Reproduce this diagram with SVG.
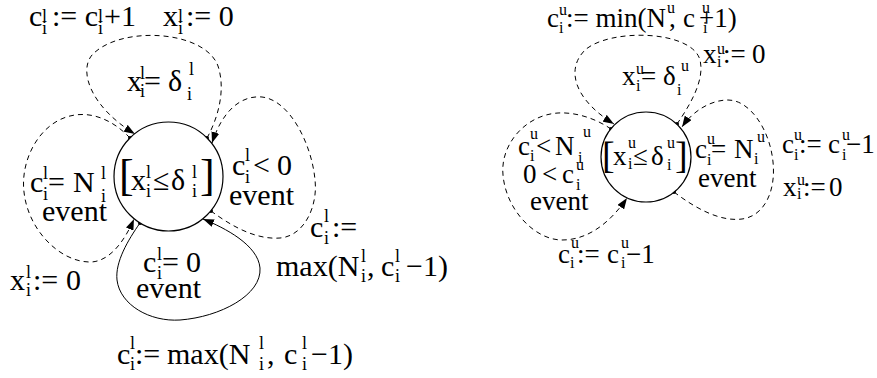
<svg xmlns="http://www.w3.org/2000/svg" width="877" height="378" viewBox="0 0 877 378" font-family="'Liberation Serif', 'DejaVu Serif', serif">
<defs>
<style>
text{font-family:'Liberation Serif','DejaVu Serif',serif;fill:#000}
.L{font-size:30px}
.R{font-size:27px}
.L .s{font-size:18px}
.R .s{font-size:16px}
.bL{font-size:44px}
.bR{font-size:38px}
.st{fill:#fff;stroke:#000;stroke-width:1.2}
.e{fill:none;stroke:#000;stroke-width:1;marker-end:url(#ah);marker-start:url(#dot)}
.d{stroke-dasharray:5 4}
</style>
<marker id="ah" markerUnits="userSpaceOnUse" markerWidth="12" markerHeight="8" refX="11" refY="4" orient="auto"><path d="M0,0 L11,4 L0,8 z" fill="#000"/></marker>
<marker id="dot" markerUnits="userSpaceOnUse" markerWidth="5" markerHeight="5" refX="2.5" refY="2.5"><circle cx="2.5" cy="2.5" r="2" fill="#000"/></marker>
</defs>
<rect width="877" height="378" fill="#fff"/>

<g id="connectors">
<path class="e d" d="M207,138 C218,118 226,90 218,66 C205,30 120,25 92,55 C78,72 92,108 135,134"/>
<path class="e d" d="M130,138 C115,122 95,112 75,115 C40,120 20,160 24,192 C28,230 60,262 90,262 C110,262 125,240 134,219"/>
<path class="e" d="M140,223 C128,240 115,262 117,280 C120,305 150,322 180,320 C220,317 262,295 260,268 C258,245 225,228 203,219"/>
<path class="e d" d="M211,211 C230,225 255,240 280,238 C305,236 318,205 315,180 C312,145 290,100 262,97 C240,95 222,112 212,143"/>
<path class="e d" d="M677,124 C690,105 705,80 700,60 C692,30 610,28 585,50 C565,70 575,100 614,124"/>
<path class="e d" d="M611,129 C595,118 575,112 558,113 C525,115 500,145 503,175 C506,210 535,240 562,240 C590,240 612,220 627,198"/>
<path class="e d" d="M674,192 C695,208 720,222 742,219 C765,216 776,190 773,162 C770,130 750,100 728,100 C710,100 692,112 682,127"/>
</g>

<g id="state-l">
<circle class="st" cx="168.5" cy="176.5" r="54.5"/>
<text class="L"><tspan class="bL" x="119" y="190">[</tspan><tspan x="131" y="190">x</tspan><tspan class="s" x="146" y="178">l</tspan><tspan class="s" x="146" y="197">i</tspan><tspan x="153" y="190">≤</tspan><tspan x="171" y="190">δ</tspan><tspan class="s" x="192" y="178">l</tspan><tspan class="s" x="192" y="197">i</tspan><tspan class="bL" x="200" y="190">]</tspan></text>
</g>

<g id="state-u">
<circle class="st" cx="646" cy="157" r="45"/>
<text class="R"><tspan class="bR" x="602" y="168">[</tspan><tspan x="613" y="165">x</tspan><tspan class="s" x="628" y="148">u</tspan><tspan class="s" x="628" y="169">i</tspan><tspan x="633" y="165">≤</tspan><tspan x="651" y="165">δ</tspan><tspan class="s" x="667" y="148">u</tspan><tspan class="s" x="667" y="170">i</tspan><tspan class="bR" x="675" y="168">]</tspan></text>
</g>

<g id="edge-labels">
<text class="L"><tspan x="29" y="26">c</tspan><tspan class="s" x="42" y="22">l</tspan><tspan class="s" x="42" y="34">i</tspan><tspan x="52" y="26">:= c</tspan><tspan class="s" x="98" y="22">l</tspan><tspan class="s" x="98" y="34">i</tspan><tspan x="104" y="26">+1</tspan></text>
<text class="L"><tspan x="163" y="26">x</tspan><tspan class="s" x="178" y="22">l</tspan><tspan class="s" x="178" y="34">i</tspan><tspan x="186" y="26">:= 0</tspan></text>
<text class="L"><tspan x="127" y="91">x</tspan><tspan class="s" x="140" y="79">l</tspan><tspan class="s" x="140" y="97">i</tspan><tspan x="144" y="91">=</tspan><tspan x="168" y="91">δ</tspan><tspan class="s" x="189" y="75">l</tspan><tspan class="s" x="187" y="100">i</tspan></text>
<text class="L"><tspan x="30" y="192">c</tspan><tspan class="s" x="43" y="179">l</tspan><tspan class="s" x="43" y="200">i</tspan><tspan x="48" y="192">=</tspan><tspan x="73" y="192">N</tspan><tspan class="s" x="101" y="179">l</tspan><tspan class="s" x="101" y="202">i</tspan><tspan x="42" y="221">event</tspan></text>
<text class="L"><tspan x="232" y="175">c</tspan><tspan class="s" x="245" y="161">l</tspan><tspan class="s" x="245" y="183">i</tspan><tspan x="253" y="175">&lt;</tspan><tspan x="277" y="175">0</tspan><tspan x="229" y="205">event</tspan></text>
<text class="L"><tspan x="310" y="237">c</tspan><tspan class="s" x="324" y="222">l</tspan><tspan class="s" x="324" y="244">i</tspan><tspan x="332" y="237">:=</tspan></text>
<text class="L"><tspan x="276" y="276">max(N</tspan><tspan class="s" x="361" y="262">l</tspan><tspan class="s" x="361" y="282">i</tspan><tspan x="367" y="276">,</tspan><tspan x="381" y="276">c</tspan><tspan class="s" x="395" y="262">l</tspan><tspan class="s" x="395" y="282">i</tspan><tspan x="406" y="276">−1)</tspan></text>
<text class="L"><tspan x="10" y="290">x</tspan><tspan class="s" x="26" y="278">l</tspan><tspan class="s" x="26" y="296">i</tspan><tspan x="33" y="290">:=</tspan><tspan x="66" y="290">0</tspan></text>
<text class="L"><tspan x="143" y="272">c</tspan><tspan class="s" x="157" y="260">l</tspan><tspan class="s" x="157" y="279">i</tspan><tspan x="162" y="272">=</tspan><tspan x="186" y="272">0</tspan><tspan x="136" y="298">event</tspan></text>
<text class="L"><tspan x="117" y="364">c</tspan><tspan class="s" x="130" y="349">l</tspan><tspan class="s" x="130" y="370">i</tspan><tspan x="135" y="364">:=</tspan><tspan x="167" y="364">max(N</tspan><tspan class="s" x="259" y="349">l</tspan><tspan class="s" x="259" y="370">i</tspan><tspan x="267" y="364">,</tspan><tspan x="284" y="364">c</tspan><tspan class="s" x="302" y="349">l</tspan><tspan class="s" x="302" y="370">i</tspan><tspan x="311" y="364">−1)</tspan></text>

<text class="R"><tspan x="547" y="27">c</tspan><tspan class="s" x="559" y="15">u</tspan><tspan class="s" x="559" y="33">i</tspan><tspan x="566" y="27">:= min(N</tspan><tspan class="s" x="667" y="13">u</tspan><tspan x="669" y="27">,</tspan><tspan x="683" y="27">c</tspan><tspan class="s" x="702" y="13">u</tspan><tspan x="699" y="27">+1)</tspan><tspan class="s" x="703" y="33">i</tspan></text>
<text class="R"><tspan x="703" y="63">x</tspan><tspan class="s" x="717" y="54">u</tspan><tspan class="s" x="717" y="67">i</tspan><tspan x="723" y="63">:=</tspan><tspan x="752" y="63">0</tspan></text>
<text class="R"><tspan x="622" y="85">x</tspan><tspan class="s" x="636" y="74">u</tspan><tspan class="s" x="636" y="91">i</tspan><tspan x="641" y="85">=</tspan><tspan x="663" y="85">δ</tspan><tspan class="s" x="681" y="71">u</tspan><tspan class="s" x="677" y="95">i</tspan></text>
<text class="R"><tspan x="518" y="155">c</tspan><tspan class="s" x="530" y="139">u</tspan><tspan class="s" x="530" y="161">i</tspan><tspan x="536" y="155">&lt;</tspan><tspan x="555" y="155">N</tspan><tspan class="s" x="583" y="137">u</tspan><tspan class="s" x="578" y="163">i</tspan><tspan x="523" y="183">0</tspan><tspan x="542" y="183">&lt;</tspan><tspan x="562" y="183">c</tspan><tspan class="s" x="576" y="170">u</tspan><tspan class="s" x="576" y="190">i</tspan><tspan x="530" y="210">event</tspan></text>
<text class="R"><tspan x="695" y="158">c</tspan><tspan class="s" x="707" y="144">u</tspan><tspan class="s" x="707" y="165">i</tspan><tspan x="711" y="158">=</tspan><tspan x="734" y="158">N</tspan><tspan class="s" x="757" y="142">u</tspan><tspan class="s" x="754" y="164">i</tspan><tspan x="698" y="187">event</tspan></text>
<text class="R"><tspan x="782" y="153">c</tspan><tspan class="s" x="794" y="140">u</tspan><tspan class="s" x="794" y="160">i</tspan><tspan x="799" y="153">:=</tspan><tspan x="828" y="153">c</tspan><tspan class="s" x="842" y="140">u</tspan><tspan class="s" x="842" y="160">i</tspan><tspan x="846" y="153">−1</tspan></text>
<text class="R"><tspan x="783" y="196">x</tspan><tspan class="s" x="797" y="185">u</tspan><tspan class="s" x="797" y="199">i</tspan><tspan x="803" y="196">:=</tspan><tspan x="829" y="196">0</tspan></text>
<text class="R"><tspan x="558" y="263">c</tspan><tspan class="s" x="571" y="248">u</tspan><tspan class="s" x="570" y="268">i</tspan><tspan x="577" y="263">:=</tspan><tspan x="607" y="263">c</tspan><tspan class="s" x="621" y="248">u</tspan><tspan class="s" x="621" y="268">i</tspan><tspan x="626" y="263">−1</tspan></text>
</g>
</svg>
